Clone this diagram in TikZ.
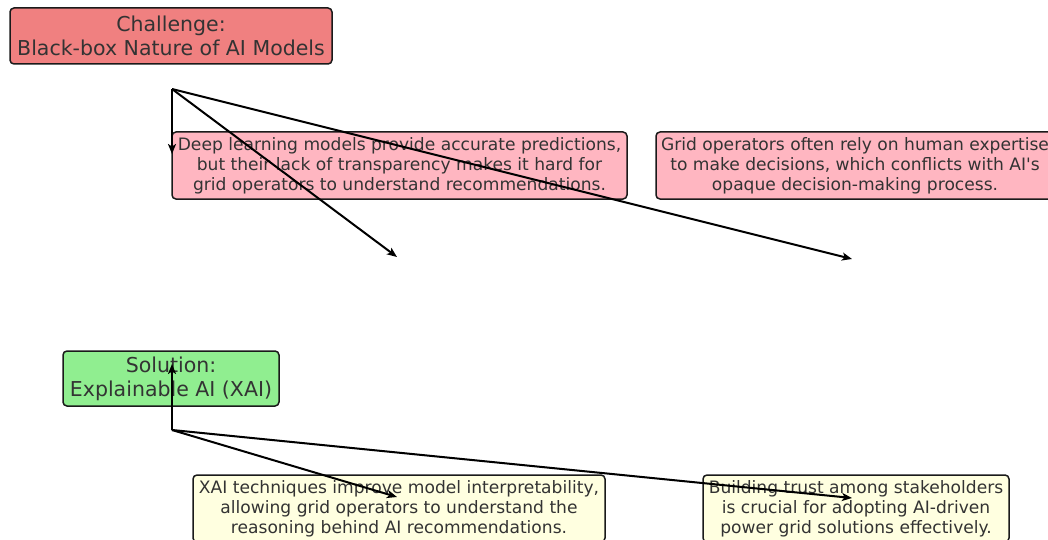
\documentclass[tikz,border=0pt]{standalone}
\usepackage{fontspec}
\setmainfont{DejaVu Sans}
\usetikzlibrary{arrows.meta}
\definecolor{chal}{HTML}{F08080}
\definecolor{pinkb}{HTML}{FFB6C1}
\definecolor{greenb}{HTML}{90EE90}
\definecolor{yellowb}{HTML}{FFFFE0}
\definecolor{txt}{HTML}{333333}
\definecolor{edge}{HTML}{1A1A1A}
\tikzset{
  box/.style={draw=edge, line width=1.5pt, rounded corners=4pt, align=center,
    text=txt, inner sep=0pt},
  headbox/.style={box, font=\fontsize{20.5}{24}\selectfont},
  infobox/.style={box, font=\fontsize{17.1}{20}\selectfont},
  conn/.style={draw=black, line width=2pt, -{Stealth[length=10pt,width=8pt,inset=2.5pt]}}
}
\begin{document}
\begin{tikzpicture}[x=1pt,y=-1pt]
\useasboundingbox (0,0) rectangle (1048,540);
% boxes
\node[headbox, fill=chal, minimum width=322pt, minimum height=56pt] (chal) at (171,36)
  {Challenge:\\Black-box Nature of AI Models};
\node[infobox, fill=pinkb, minimum width=455pt, minimum height=67pt] (b1) at (399.5,165.5)
  {Deep learning models provide accurate predictions,\\but their lack of transparency makes it hard for\\grid operators to understand recommendations.};
\node[infobox, fill=pinkb, minimum width=398pt, minimum height=67pt] (b2) at (855,165.5)
  {Grid operators often rely on human expertise\\to make decisions, which conflicts with AI\textquotesingle s\\opaque decision-making process.};
\node[headbox, fill=greenb, minimum width=216pt, minimum height=55pt] (sol) at (171,378.5)
  {Solution:\\Explainable AI (XAI)};
\node[infobox, fill=yellowb, minimum width=412pt, minimum height=67pt] (b3) at (399,508.5)
  {XAI techniques improve model interpretability,\\allowing grid operators to understand the\\reasoning behind AI recommendations.};
\node[infobox, fill=yellowb, minimum width=306pt, minimum height=67pt] (b4) at (856,508.5)
  {Building trust among stakeholders\\is crucial for adopting AI-driven\\power grid solutions effectively.};
% connector points
\coordinate (cs) at (172,89);
\coordinate (c1) at (172,154);
\coordinate (c2) at (397,257);
\coordinate (c3) at (852,259);
\coordinate (ss) at (172,430);
\coordinate (s1) at (172,364);
\coordinate (s2) at (397,497);
\coordinate (s3) at (852,498);
% connectors
\draw[conn] (cs) -- (c1);
\draw[conn] (cs) -- (c2);
\draw[conn] (cs) -- (c3);
\draw[conn] (ss) -- (s1);
\draw[conn] (ss) -- (s2);
\draw[conn] (ss) -- (s3);
\end{tikzpicture}
\end{document}
